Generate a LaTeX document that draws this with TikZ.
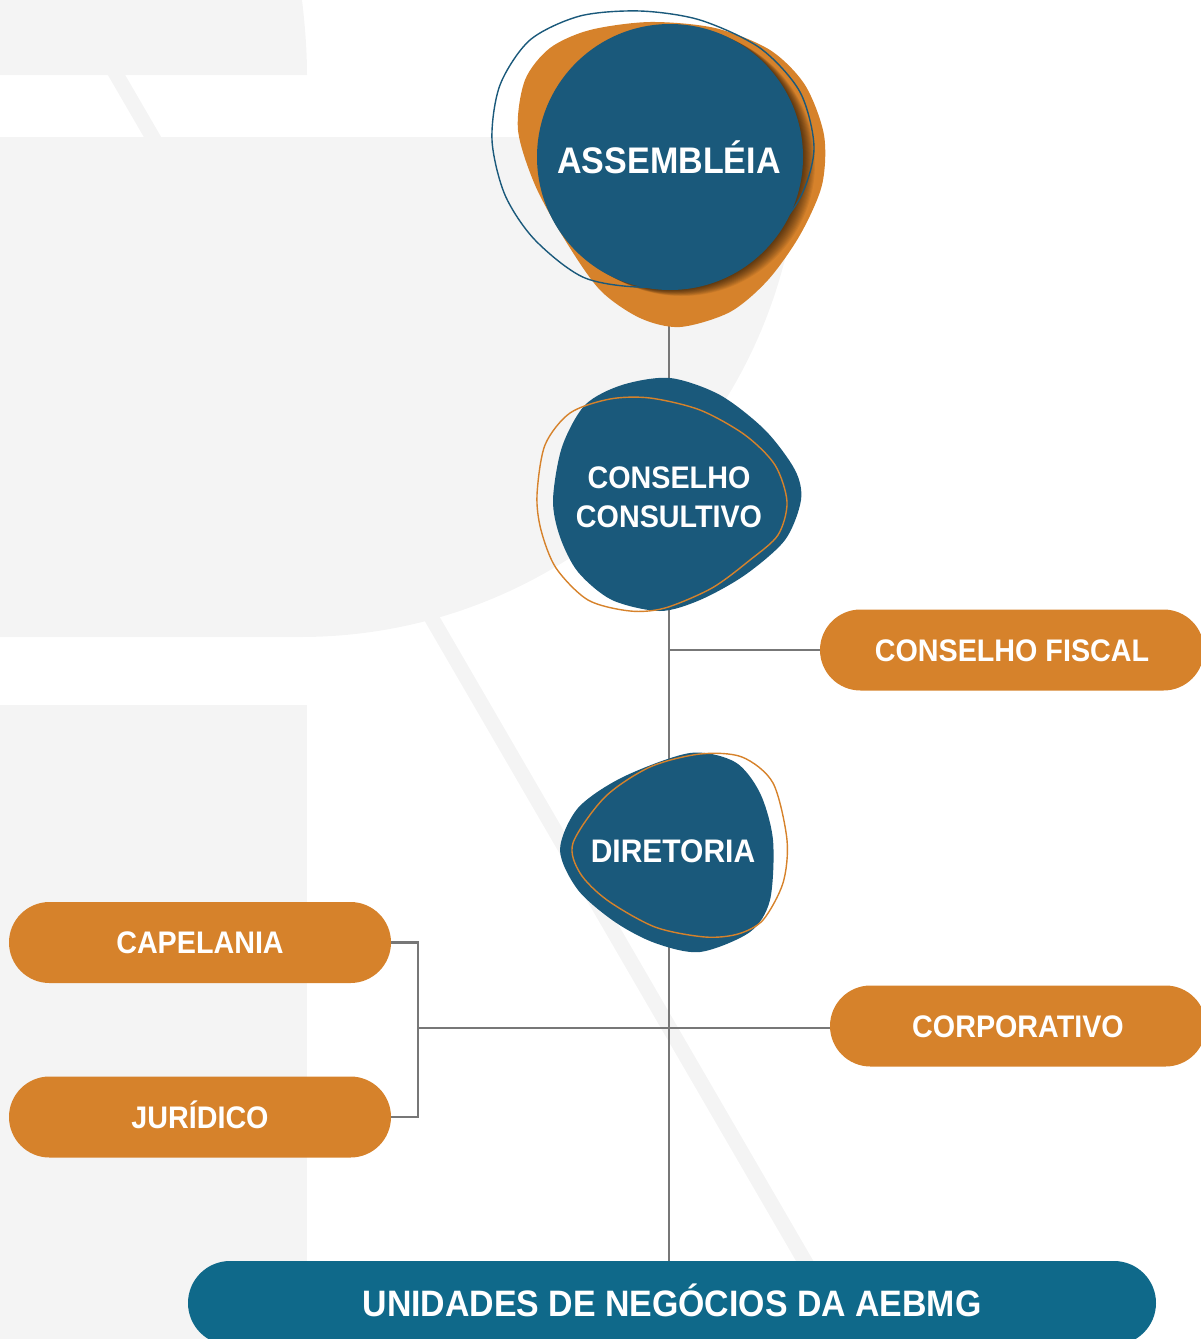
\documentclass[tikz,border=0pt]{standalone}
\usepackage{fontspec}
\setmainfont{Liberation Sans}[FakeStretch=0.92]
\usetikzlibrary{shapes.misc,backgrounds}
\definecolor{azul}{RGB}{26,89,123}
\definecolor{azulbarra}{RGB}{15,105,138}
\definecolor{laranja}{RGB}{214,130,43}
\definecolor{cinza}{RGB}{119,119,119}
\definecolor{fundo}{RGB}{244,244,244}
\tikzstyle{pilula} = [rounded rectangle, fill=laranja, text=white,
font=\bfseries\fontsize{15.6}{18}\selectfont,
minimum width=191pt, minimum height=40.5pt,
text height=11.2pt, text depth=0pt, inner sep=0pt]
\tikzstyle{rotulo} = [text=white, font=\bfseries\fontsize{15.6}{19.5}\selectfont, align=center]
\tikzstyle{conector} = [draw=cinza, line width=1.25pt]

\begin{document}
\begin{tikzpicture}[x=0.5pt, y=-0.5pt]
    \useasboundingbox (0,0) rectangle (1200,1339);

    % assembleia
    \fill[laranja] plot[smooth cycle] coordinates {(518,130) (525,80) (550,48) (590,30) (650,22) (715,28) (770,50) (805,85) (824,135) (822,185) (800,235) (768,280) (730,312) (680,327) (640,318) (600,290) (565,240) (535,185)};
    \begin{scope}
      \clip plot[smooth cycle] coordinates {(518,130) (525,80) (550,48) (590,30) (650,22) (715,28) (770,50) (805,85) (824,135) (822,185) (800,235) (768,280) (730,312) (680,327) (640,318) (600,290) (565,240) (535,185)};
      \foreach \i in {1,...,12}
        \fill[black, opacity=0.06] (670+\i*1.0,157+\i*0.5) circle (133);
    \end{scope}
    \draw[azul, line width=0.7pt] plot[smooth cycle] coordinates {(492,140) (500,85) (530,40) (580,16) (640,11) (700,20) (760,48) (800,92) (814,148) (800,198) (765,240) (710,272) (650,287) (585,278) (535,240) (505,195)};
    \fill[azul] (670,157) circle (133);
    \node[rotulo, text height=13.3pt, text depth=0pt, font=\bfseries\fontsize{18.5}{20}\selectfont] (assembleia) at (669,160) {ASSEMBLÉIA};

    % conselho consultivo
    \fill[azul] plot[smooth cycle] coordinates {(553,500) (562,447) (585,405) (622,385) (670,378) (720,395) (765,430) (795,470) (801,500) (785,540) (745,575) (700,600) (660,611) (612,600) (578,572) (560,537)};
    \draw[laranja, line width=0.7pt] plot[smooth cycle] coordinates {(537,495) (545,445) (570,413) (610,399) (650,398) (700,410) (745,435) (775,465) (787,502) (778,535) (750,560) (712,588) (665,608) (630,611) (588,600) (556,568) (541,530)};
    \node[rotulo] (consultivo) at (669,497) {CONSELHO\\CONSULTIVO};

    % diretoria
    \fill[azul] plot[smooth cycle] coordinates {(560,850) (578,808) (623,777) (690,753) (735,762) (760,793) (773,840) (770,900) (750,932) (700,952) (655,943) (615,922) (578,890)};
    \draw[laranja, line width=0.7pt] plot[smooth cycle] coordinates {(573,843) (605,797) (650,767) (700,754) (742,757) (773,783) (787,840) (783,883) (763,920) (738,934) (705,937) (655,927) (607,900) (580,873)};
    \node[rotulo, text height=11.7pt, text depth=0pt, font=\bfseries\fontsize{16.3}{19}\selectfont] (diretoria) at (673,851) {DIRETORIA};

    \node[pilula, minimum width=192pt] (fiscal) at (1012,650) {CONSELHO FISCAL};
    \node[pilula] (capelania) at (200,942.5) {CAPELANIA};
    \node[pilula] (juridico) at (200,1117) {JURÍDICO};
    \node[pilula, minimum width=188pt] (corporativo) at (1018,1026) {CORPORATIVO};
    \node[pilula, fill=azulbarra, minimum width=484pt, minimum height=42pt, text height=13.2pt,
      font=\bfseries\fontsize{18.4}{20}\selectfont] (unidades) at (672,1303) {UNIDADES DE NEGÓCIOS DA AEBMG};

    \begin{scope}[on background layer]
      \fill[fundo] (0,0) -- (302,0) .. controls (305,25) and (307,50) .. (307,75) -- (0,75) -- cycle;
      \fill[fundo] (0,137) -- (800,137) arc[start angle=0, end angle=90, radius=500] -- (0,637) -- cycle;
      \fill[fundo] (0,705) rectangle (307,1339);
      \draw[fundo, line width=7.5pt] (73,0) -- (850,1339);

      \draw[conector] (assembleia.center) -- (assembleia.center |- unidades.north);
      \draw[conector] (assembleia.center |- fiscal.west) -- (fiscal.west);
      \coordinate (juncao) at (418,1028);
      \draw[conector] (capelania.east) -| (juncao) |- (juridico.east);
      \draw[conector] (juncao) -- (juncao -| corporativo.west);
    \end{scope}
\end{tikzpicture}
\end{document}
